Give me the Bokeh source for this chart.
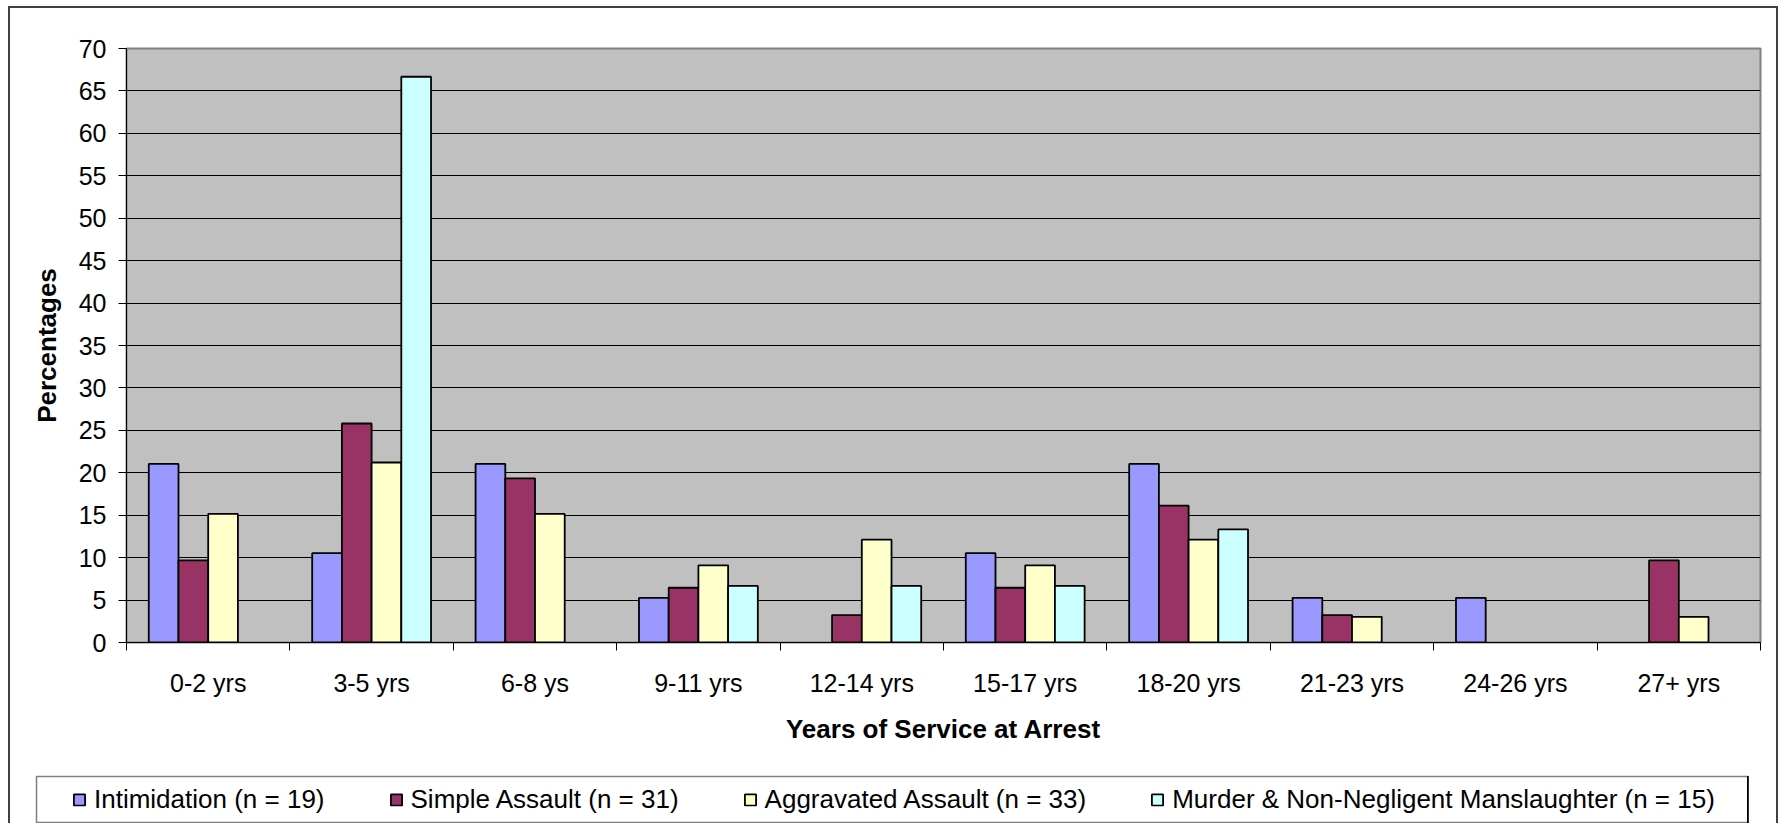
from bokeh.plotting import figure
from bokeh.layouts import column
from bokeh.models import (ColumnDataSource, Range1d, FixedTicker, Legend, LegendItem,
                          LinearAxis, Grid)
from bokeh.transform import dodge
from bokeh.embed import file_html
from bokeh.resources import INLINE

categories = ["0-2 yrs", "3-5 yrs", "6-8 ys", "9-11 yrs", "12-14 yrs",
              "15-17 yrs", "18-20 yrs", "21-23 yrs", "24-26 yrs", "27+ yrs"]
series_names = ["Intimidation (n = 19)", "Simple Assault (n = 31)",
                "Aggravated Assault (n = 33)",
                "Murder & Non-Negligent Manslaughter (n = 15)"]
intimidation = [21.05, 10.53, 21.05, 5.26, 0, 10.53, 21.05, 5.26, 5.26, 0]
simple_assault = [9.68, 25.81, 19.35, 6.45, 3.23, 6.45, 16.13, 3.23, 0, 9.68]
aggravated_assault = [15.15, 21.21, 15.15, 9.09, 12.12, 9.09, 12.12, 3.03, 0, 3.03]
murder = [0, 66.67, 0, 6.67, 6.67, 6.67, 13.33, 0, 0, 0]
colors = ["#9999FF", "#993366", "#FFFFCC", "#CCFFFF"]
y_ticks = list(range(0, 75, 5))

FONT = "Liberation Sans"

# ---------------- main chart ----------------
p = figure(width=1770, height=764, x_range=Range1d(0, len(categories)),
           y_range=Range1d(0, 70), output_backend="svg", toolbar_location=None,
           x_axis_type=None, y_axis_type=None,
           min_border_left=118, min_border_right=18, min_border_top=42,
           min_border_bottom=128, background_fill_color="#C0C0C0",
           border_fill_alpha=0, outline_line_color="#808080",
           outline_line_width=2)
p.frame_align = False

p.add_layout(Grid(dimension=1, ticker=FixedTicker(ticks=y_ticks[1:-1]),
                  grid_line_color="black", grid_line_width=1))

all_series = [intimidation, simple_assault, aggravated_assault, murder]
n = len(all_series)
bar_w = 1.0 / (n + 1.5)
sources = []
for k, (vals, col) in enumerate(zip(all_series, colors)):
    xs = [i + 0.5 for i, v in enumerate(vals) if v > 0]
    tops = [v for v in vals if v > 0]
    src = ColumnDataSource(dict(x=xs, top=tops))
    sources.append(src)
    off = (k - (n - 1) / 2) * bar_w
    p.vbar(x=dodge("x", off, range=p.x_range), top="top", bottom=0,
           width=bar_w, source=src, fill_color=col, line_color="black",
           line_width=1.8)

centers = [i + 0.5 for i in range(len(categories))]
xaxis = LinearAxis(
    ticker=FixedTicker(ticks=centers, minor_ticks=list(range(len(categories) + 1))),
    major_label_overrides={c: lab for c, lab in zip(centers, categories)},
    major_tick_line_color=None, major_tick_out=8, major_tick_in=0,
    minor_tick_line_color="black", minor_tick_out=8, minor_tick_in=0,
    axis_line_color="black", axis_line_width=1,
    major_label_text_font=FONT, major_label_text_font_size="25px",
    major_label_text_color="black", major_label_standoff=18,
    axis_label="Years of Service at Arrest", axis_label_text_font=FONT,
    axis_label_text_font_size="26px", axis_label_text_font_style="bold",
    axis_label_text_color="black", axis_label_standoff=14)
p.add_layout(xaxis, "below")

yaxis = LinearAxis(
    ticker=FixedTicker(ticks=y_ticks),
    major_tick_line_color="black", major_tick_out=8, major_tick_in=0,
    axis_line_color="black", axis_line_width=1,
    major_label_text_font=FONT, major_label_text_font_size="25px",
    major_label_text_color="black", major_label_standoff=12,
    axis_label="Percentages", axis_label_text_font=FONT,
    axis_label_text_font_size="26px", axis_label_text_font_style="bold",
    axis_label_text_color="black", axis_label_standoff=14)
p.add_layout(yaxis, "left")

# ---------------- legend box ----------------
# the bars are repeated here out of view only to give the legend its swatches
lg = figure(width=1714, height=48, x_range=Range1d(-3, -2), y_range=Range1d(0, 1),
            output_backend="svg", toolbar_location=None,
            x_axis_type=None, y_axis_type=None,
            min_border=1, min_border_left=1, min_border_right=1,
            min_border_top=1, min_border_bottom=1,
            background_fill_color="white", border_fill_color="white",
            outline_line_color="#808080", outline_line_width=1.5,
            margin=(5, 0, 0, 27))
lg.frame_align = False
lg_renderers = []
for src, col in zip(sources, colors):
    r = lg.vbar(x="x", top="top", bottom=0, width=bar_w, source=src,
                fill_color=col, line_color="black", line_width=1.8)
    lg_renderers.append(r)

legend = Legend(items=[LegendItem(label=nm, renderers=[r])
                       for nm, r in zip(series_names, lg_renderers)],
                orientation="horizontal", location="left", margin=36,
                padding=0, spacing=64, label_standoff=8,
                glyph_width=14, glyph_height=14,
                label_text_font=FONT, label_text_font_size="26px",
                label_text_color="black",
                border_line_alpha=0, background_fill_alpha=0)
lg.add_layout(legend)

layout = column(p, lg, margin=(6, 0, 0, 8), spacing=0,
                styles={"box-shadow": "inset 2px 0 0 #404040, inset -2px 0 0 #404040, "
                                      "inset 0 2px 0 #404040"})

open("out.html", "w").write(file_html(layout, INLINE))
